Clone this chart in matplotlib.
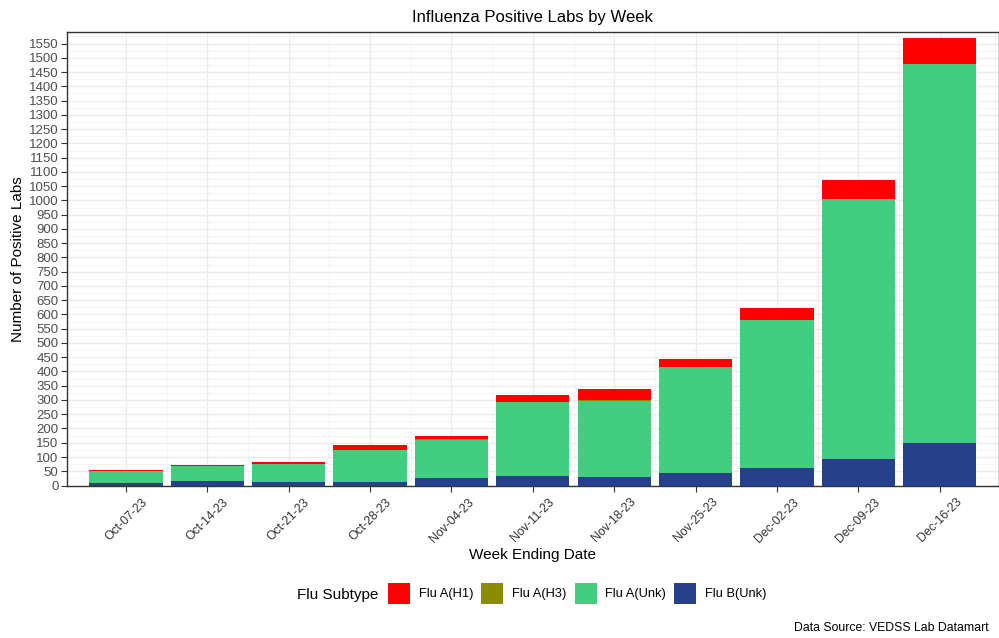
import numpy as np
import matplotlib
matplotlib.use("Agg")
import matplotlib.pyplot as plt
from matplotlib.patches import Patch
from matplotlib.ticker import MultipleLocator

plt.rcParams['font.family'] = ['Liberation Sans', 'DejaVu Sans']

weeks = ['Oct-07-23', 'Oct-14-23', 'Oct-21-23', 'Oct-28-23', 'Nov-04-23', 'Nov-11-23',
         'Nov-18-23', 'Nov-25-23', 'Dec-02-23', 'Dec-09-23', 'Dec-16-23']
flu_b_unk = [8, 16, 12, 13, 25, 32, 29, 45, 62, 93, 150]
flu_a_unk = [42, 52, 65, 112, 134, 260, 269, 370, 518, 911, 1328]
flu_a_h3 = [0, 1, 0, 1, 5, 2, 3, 1, 2, 1, 2]
flu_a_h1 = [4, 4, 7, 15, 11, 23, 38, 28, 40, 67, 90]

series = [('Flu B(Unk)', flu_b_unk, '#27408B'),
          ('Flu A(Unk)', flu_a_unk, '#43CD80'),
          ('Flu A(H3)', flu_a_h3, '#8B8B00'),
          ('Flu A(H1)', flu_a_h1, '#FF0000')]

fig = plt.figure(figsize=(9.99, 6.38), dpi=100)
ax = fig.add_axes([0.0668, 0.239, 0.9332, 0.711])

x = np.arange(len(weeks))
bottom = np.zeros(len(weeks))
for name, vals, col in series:
    ax.bar(x, vals, width=0.9, bottom=bottom, color=col, zorder=3, linewidth=0)
    bottom += np.array(vals)

ax.set_xlim(-0.728, len(weeks) - 1 + 0.728)
ax.set_ylim(0, 1591)
ax.yaxis.set_major_locator(MultipleLocator(50))
ax.yaxis.set_minor_locator(MultipleLocator(25))
ax.set_xticks(x)
ax.set_xticks(x[:-1] + 0.5, minor=True)
ax.set_xticklabels(weeks, rotation=45, ha='center', va='top', fontsize=8.8, color='#4D4D4D')
ax.tick_params(axis='y', labelsize=9.5, colors='#333333', labelcolor='#4D4D4D', length=4, width=0.8, pad=2)
ax.tick_params(axis='x', colors='#333333', length=4, width=0.8)
ax.tick_params(which='minor', length=0)

ax.grid(which='major', color='#EBEBEB', linewidth=1.0, zorder=0)
ax.grid(which='minor', color='#F2F2F2', linewidth=0.6, zorder=0)
ax.set_axisbelow(True)
for s in ax.spines.values():
    s.set_color('#333333')
    s.set_linewidth(1.0)

ax.set_title('Influenza Positive Labs by Week', fontsize=12, pad=7)
ax.set_xlabel('Week Ending Date', fontsize=11, labelpad=2)
ax.set_ylabel('Number of Positive Labs', fontsize=11, labelpad=3)

handles = [Patch(facecolor=c, edgecolor='none', label=n) for n, v, c in series[::-1]]
fig.legend(handles=handles, loc='center left', bbox_to_anchor=(0.377, 0.07), ncol=4,
           frameon=False, fontsize=9.3, handlelength=1.7, handleheight=2.1,
           columnspacing=0.65, handletextpad=0.65, borderpad=0.4)
fig.text(0.297, 0.067, 'Flu Subtype', fontsize=11, va='center', ha='left')
fig.text(0.99, 0.015, 'Data Source: VEDSS Lab Datamart', fontsize=8.8, ha='right', va='center')

fig.savefig('out.png', dpi=100)
